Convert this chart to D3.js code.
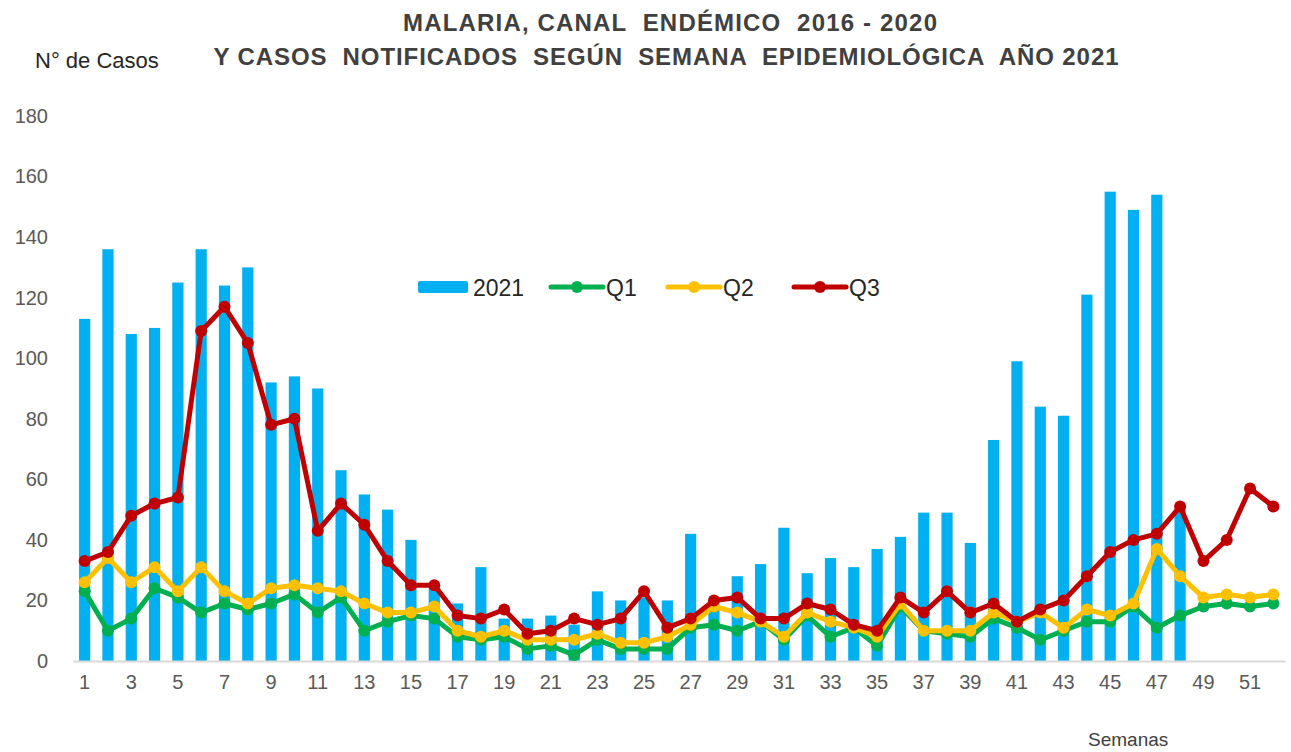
<!DOCTYPE html>
<html>
<head>
<meta charset="utf-8">
<script src="https://cdn.jsdelivr.net/npm/d3@7"></script>
<style>
  body { margin: 0; background: #fff; }
  text { font-family: "Liberation Sans", Arial, sans-serif; }
</style>
</head>
<body>
<div id="box"></div>
<script>
// data
const semanas = d3.range(1, 53);
const tickSemanas = semanas.filter(d => d % 2 === 1);
const casos2021 = [113, 136, 108, 110, 125, 136, 124, 130, 92, 94, 90, 63, 55, 50, 40, 24,
  19, 31, 14, 14, 15, 12, 23, 20, 21, 20, 42, 18, 28, 32, 44, 29, 34, 31, 37, 41,
  49, 49, 39, 73, 99, 84, 81, 121, 155, 149, 154, 50];
const q1 = [23, 10, 14, 24, 21, 16, 19, 17, 19, 22, 16, 21, 10, 13, 15, 14, 8, 7, 8, 4,
  5, 2, 7, 4, 4, 4, 11, 12, 10, 13, 7, 15, 8, 11, 5, 18, 10, 9, 8, 14,
  11, 7, 10, 13, 13, 18, 11, 15, 18, 19, 18, 19];
const q2 = [26, 34, 26, 31, 23, 31, 23, 19, 24, 25, 24, 23, 19, 16, 16, 18, 10, 8, 10, 7,
  7, 7, 9, 6, 6, 8, 12, 18, 16, 13, 8, 16, 13, 11, 8, 19, 10, 10, 10, 16,
  13, 16, 11, 17, 15, 19, 37, 28, 21, 22, 21, 22];
const q3 = [33, 36, 48, 52, 54, 109, 117, 105, 78, 80, 43, 52, 45, 33, 25, 25, 15, 14, 17, 9,
  10, 14, 12, 14, 23, 11, 14, 20, 21, 14, 14, 19, 17, 12, 10, 21, 16, 23, 16, 19,
  13, 17, 20, 28, 36, 40, 42, 51, 33, 40, 57, 51];
const yTicks = [0, 20, 40, 60, 80, 100, 120, 140, 160, 180];

const series = [
  { name: 'Q1', values: q1, color: '#00B050' },
  { name: 'Q2', values: q2, color: '#FFC000' },
  { name: 'Q3', values: q3, color: '#C00000' }
];
const barColor = '#00B0F0';

const width = 1291, height = 752;

const svg = d3.select('#box').append('svg')
  .attr('width', width)
  .attr('height', height);

const x = d3.scaleBand()
  .domain(semanas)
  .range([73, 1285])
  .paddingInner(0.52)
  .paddingOuter(0.26);

const y = d3.scaleLinear()
  .domain([0, 180])
  .range([661, 116]);

// title
const titulo = svg.append('g').attr('fill', '#404040')
  .attr('font-weight', 'bold')
  .attr('font-size', 24);
titulo.append('text')
  .attr('x', 670).attr('y', 31)
  .attr('text-anchor', 'middle')
  .attr('xml:space', 'preserve')
  .attr('textLength', 534).attr('lengthAdjust', 'spacing')
  .text('MALARIA, CANAL  ENDÉMICO  2016 - 2020');
titulo.append('text')
  .attr('x', 666).attr('y', 65)
  .attr('text-anchor', 'middle')
  .attr('xml:space', 'preserve')
  .attr('textLength', 905).attr('lengthAdjust', 'spacing')
  .text('Y CASOS  NOTIFICADOS  SEGÚN  SEMANA  EPIDEMIOLÓGICA  AÑO 2021');

svg.append('text')
  .attr('x', 35).attr('y', 68)
  .attr('font-size', 22)
  .attr('fill', '#262626')
  .text('N° de Casos');

svg.append('text')
  .attr('x', 1088).attr('y', 746)
  .attr('font-size', 19)
  .attr('fill', '#404040')
  .text('Semanas');

// y axis labels
const yAxis = svg.append('g')
  .attr('transform', 'translate(50,0)')
  .call(d3.axisLeft(y).tickValues(yTicks).tickSize(0).tickPadding(2));
yAxis.select('.domain').remove();
yAxis.selectAll('text')
  .attr('font-size', 20)
  .attr('fill', '#595959')
  .style('font-family', '"Liberation Sans", Arial, sans-serif');

// bars
svg.append('g').selectAll('rect')
  .data(casos2021)
  .join('rect')
  .attr('x', (d, i) => x(semanas[i]))
  .attr('y', d => y(d))
  .attr('width', x.bandwidth())
  .attr('height', d => y(0) - y(d))
  .attr('fill', barColor);

// x axis
const xAxis = svg.append('g')
  .attr('transform', `translate(0,${y(0)})`)
  .call(d3.axisBottom(x).tickValues(tickSemanas).tickSize(0).tickPadding(14));
xAxis.select('.domain')
  .attr('stroke', '#d9d9d9')
  .attr('stroke-width', 2);
xAxis.selectAll('text')
  .attr('font-size', 20)
  .attr('fill', '#595959')
  .style('font-family', '"Liberation Sans", Arial, sans-serif');

// lines
const cx = i => x(semanas[i]) + x.bandwidth() / 2;
const line = d3.line()
  .x((d, i) => cx(i))
  .y(d => y(d));

series.forEach(s => {
  const g = svg.append('g');
  g.append('path')
    .datum(s.values)
    .attr('d', line)
    .attr('fill', 'none')
    .attr('stroke', s.color)
    .attr('stroke-width', 5)
    .attr('stroke-linejoin', 'round');
  g.selectAll('circle')
    .data(s.values)
    .join('circle')
    .attr('cx', (d, i) => cx(i))
    .attr('cy', d => y(d))
    .attr('r', 6)
    .attr('fill', s.color);
});

// legend
const legend = svg.append('g').attr('font-size', 23).attr('fill', '#262626');
legend.append('rect')
  .attr('x', 418).attr('y', 281)
  .attr('width', 50).attr('height', 12)
  .attr('rx', 2)
  .attr('fill', barColor);
legend.append('text')
  .attr('x', 473).attr('y', 296)
  .text('2021');

const legendX = [551, 668, 794];
series.forEach((s, i) => {
  const lx = legendX[i];
  legend.append('line')
    .attr('x1', lx).attr('x2', lx + 52)
    .attr('y1', 287).attr('y2', 287)
    .attr('stroke', s.color)
    .attr('stroke-width', 5)
    .attr('stroke-linecap', 'round');
  legend.append('circle')
    .attr('cx', lx + 26).attr('cy', 287)
    .attr('r', 6)
    .attr('fill', s.color);
  legend.append('text')
    .attr('x', lx + 55).attr('y', 296)
    .text(s.name);
});
</script>
</body>
</html>
